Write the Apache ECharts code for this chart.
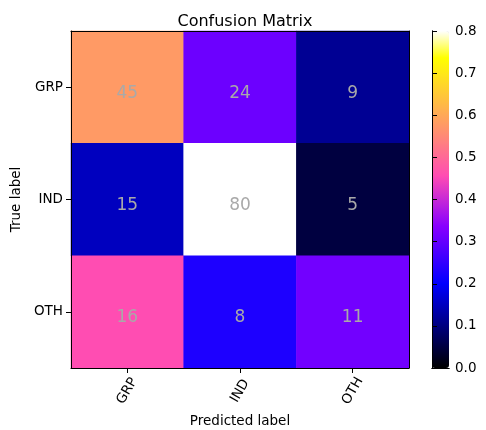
<!DOCTYPE html>
<html>
<head>
<meta charset="utf-8">
<script src="https://cdn.jsdelivr.net/npm/echarts@6/dist/echarts.min.js"></script>
<style>html,body{margin:0;padding:0;background:#fff}#c{width:486px;height:430px}</style>
</head>
<body>
<div id="c"></div>
<script>
var categories = ['GRP', 'IND', 'OTH'];
var countsGRP = [45, 24, 9];
var countsIND = [15, 80, 5];
var countsOTH = [16, 8, 11];
var colorbarTicks = [0, 0.1, 0.2, 0.3, 0.4, 0.5, 0.6, 0.7, 0.8];

var rows = [countsGRP, countsIND, countsOTH];
var data = [];
rows.forEach(function (row, yi) {
  var s = row.reduce(function (a, b) { return a + b; }, 0);
  row.forEach(function (v, xi) {
    data.push({ value: [xi, yi, v / s], count: v });
  });
});

function clip(v) { return Math.max(0, Math.min(1, v)); }
function gnuplot2(x) {
  var r = clip(x / 0.32 - 0.78125);
  var g = clip(2 * x - 0.84);
  var b;
  if (x < 0.25) b = 4 * x; else if (x < 0.92) b = -2 * x + 1.84; else b = x / 0.08 - 11.5;
  b = clip(b);
  return 'rgb(' + Math.round(r * 255) + ',' + Math.round(g * 255) + ',' + Math.round(b * 255) + ')';
}
var stops = [];
for (var i = 0; i <= 100; i++) stops.push(gnuplot2(i / 100));

var font = 'DejaVu Sans';
var fs = 13.5;
var chart = echarts.init(document.getElementById('c'), null, { renderer: 'canvas' });
chart.setOption({
  backgroundColor: '#fff',
  animation: false,
  textStyle: { fontFamily: font },
  title: {
    text: 'Confusion Matrix', left: 240, top: 9, textAlign: 'center',
    textStyle: { fontFamily: font, fontSize: 16, fontWeight: 'normal', color: '#000' }
  },
  grid: [
    { left: 71, top: 31, width: 338, height: 337, outerBoundsMode: 'none', containLabel: false },
    { left: 432, top: 31, width: 17, height: 337, outerBoundsMode: 'none', containLabel: false }
  ],
  xAxis: [
    {
      type: 'category', data: categories, gridIndex: 0, position: 'bottom', z: 5,
      name: 'Predicted label', nameLocation: 'middle', nameGap: 43,
      nameTextStyle: { fontFamily: font, fontSize: fs, color: '#000' },
      axisLine: { show: true, lineStyle: { color: '#000', width: 1 } },
      axisTick: { show: true, alignWithLabel: true, length: 5, lineStyle: { color: '#000' } },
      axisLabel: { rotate: 60, align: 'center', verticalAlign: 'middle', margin: 23, fontFamily: font, fontSize: fs, color: '#000' },
      splitLine: { show: false }
    },
    {
      type: 'category', data: categories, gridIndex: 0, position: 'top', z: 5,
      axisLine: { show: true, lineStyle: { color: '#000', width: 1 } },
      axisTick: { show: false }, axisLabel: { show: false }, splitLine: { show: false }
    },
    {
      type: 'value', gridIndex: 1, min: 0, max: 1, position: 'bottom', z: 6,
      axisLine: { show: true, lineStyle: { color: '#000', width: 1 } },
      axisTick: { show: false }, axisLabel: { show: false }, splitLine: { show: false }
    },
    {
      type: 'value', gridIndex: 1, min: 0, max: 1, position: 'top', z: 6,
      axisLine: { show: true, lineStyle: { color: '#000', width: 1 } },
      axisTick: { show: false }, axisLabel: { show: false }, splitLine: { show: false }
    }
  ],
  yAxis: [
    {
      type: 'category', data: categories, gridIndex: 0, inverse: true, position: 'left', z: 5,
      name: 'True label', nameLocation: 'middle', nameGap: 43,
      nameTextStyle: { fontFamily: font, fontSize: fs, color: '#000' },
      axisLine: { show: true, lineStyle: { color: '#000', width: 1 } },
      axisTick: { show: true, alignWithLabel: true, length: 5, lineStyle: { color: '#000' } },
      axisLabel: { margin: 8, fontFamily: font, fontSize: fs, color: '#000' },
      splitLine: { show: false }
    },
    {
      type: 'category', data: categories, gridIndex: 0, inverse: true, position: 'right', z: 5,
      axisLine: { show: true, lineStyle: { color: '#000', width: 1 } },
      axisTick: { show: false }, axisLabel: { show: false }, splitLine: { show: false }
    },
    {
      type: 'value', gridIndex: 1, min: 0, max: 0.8, interval: 0.1, position: 'left', z: 6,
      axisLine: { show: true, lineStyle: { color: '#000', width: 1 } },
      axisTick: { show: false }, axisLabel: { show: false }, splitLine: { show: false }
    },
    {
      type: 'value', gridIndex: 1, min: 0, max: 0.8, interval: 0.1, position: 'right', z: 6,
      axisLine: { show: true, lineStyle: { color: '#000', width: 1 } },
      axisTick: { show: true, length: 5, lineStyle: { color: '#000' } },
      axisLabel: {
        margin: 6, fontFamily: font, fontSize: fs, color: '#000',
        customValues: colorbarTicks,
        formatter: function (v) { return v.toFixed(1); }
      },
      splitLine: { show: false }
    }
  ],
  visualMap: {
    type: 'continuous', min: 0, max: 0.8, dimension: 2, seriesIndex: 0,
    orient: 'vertical', left: 432, top: 31, padding: 0,
    itemWidth: 17, itemHeight: 337, text: ['', ''], showLabel: false,
    calculable: false, hoverLink: false, z: 4,
    inRange: { color: stops }
  },
  series: [{
    type: 'heatmap', xAxisIndex: 0, yAxisIndex: 0, data: data,
    itemStyle: { borderWidth: 0 },
    emphasis: { disabled: true },
    label: {
      show: true, fontFamily: font, fontSize: 17, color: '#a9a9a9', offset: [0, 6],
      formatter: function (p) { return String(p.data.count); }
    }
  }]
});
</script>
</body>
</html>
